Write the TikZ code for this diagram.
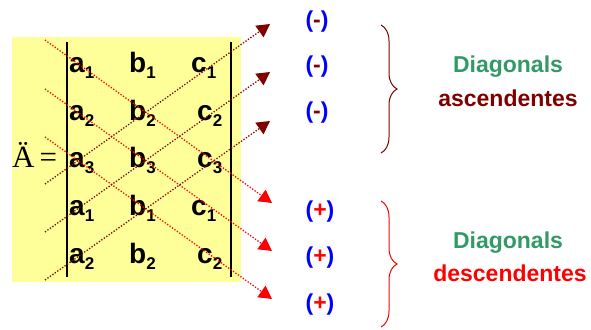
\documentclass[tikz,border=0pt]{standalone}
\usepackage{fontspec}
\setmainfont{Liberation Sans}
\newfontfamily\timesfont{Liberation Serif}
\usetikzlibrary{arrows.meta,decorations.pathreplacing}

\definecolor{detyellow}{HTML}{FFFF99}
\definecolor{darkred}{HTML}{800000}
\definecolor{signblue}{HTML}{0000FF}
\definecolor{diaggreen}{HTML}{339966}

\newcommand{\mentry}[2]{#1\raisebox{-6pt}{\fontsize{17}{17}\selectfont #2}}

\tikzset{
  entry/.style={anchor=base west, inner sep=0pt, font=\fontsize{28}{28}\selectfont\bfseries},
  sign/.style={inner sep=0pt, font=\fontsize{23}{23}\selectfont\bfseries},
  captext/.style={inner sep=0pt, font=\fontsize{23}{23}\selectfont\bfseries},
  descline/.style={red, line width=1.3pt, dash pattern=on 1.3pt off 1.7pt,
    -{Triangle[length=13pt,width=14pt]}},
  ascline/.style={darkred, line width=1.3pt, dash pattern=on 1.3pt off 1.7pt,
    -{Triangle[length=13pt,width=14pt]}},
  bracedraw/.style={line width=1pt, decorate, decoration={brace, amplitude=16pt}}
}

\begin{document}
\begin{tikzpicture}[x=1pt, y=-1pt]
    \useasboundingbox (0,0) rectangle (591,329);

    % determinant block
    \fill[detyellow] (12,37) rectangle (241,282);
    \draw[line width=1.8pt] (67,42) -- (67,277);
    \draw[line width=1.8pt] (231,42) -- (231,277);
    \node[anchor=base west, inner sep=0pt, font=\fontsize{31}{31}\selectfont\timesfont] (det) at (12,167) {Ä\,=};

    \node[entry] (a1) at (69,72) {\mentry{a}{1}};
    \node[entry] (b1) at (129,72) {\mentry{b}{1}};
    \node[entry] (c1) at (191,72) {\mentry{c}{1}};
    \node[entry] (a2) at (69,120) {\mentry{a}{2}};
    \node[entry] (b2) at (129,120) {\mentry{b}{2}};
    \node[entry] (c2) at (197,120) {\mentry{c}{2}};
    \node[entry] (a3) at (69,167) {\mentry{a}{3}};
    \node[entry] (b3) at (129,167) {\mentry{b}{3}};
    \node[entry] (c3) at (197,167) {\mentry{c}{3}};
    \node[entry] (a4) at (69,215) {\mentry{a}{1}};
    \node[entry] (b4) at (129,215) {\mentry{b}{1}};
    \node[entry] (c4) at (191,215) {\mentry{c}{1}};
    \node[entry] (a5) at (69,263) {\mentry{a}{2}};
    \node[entry] (b5) at (129,263) {\mentry{b}{2}};
    \node[entry] (c5) at (197,263) {\mentry{c}{2}};

    % diagonal ends
    \coordinate (D1) at (45,40);
    \coordinate (D2) at (45,89);
    \coordinate (D3) at (45,137);
    \coordinate (DE1) at (272,203);
    \coordinate (DE2) at (272,251);
    \coordinate (DE3) at (272,299);
    \coordinate (A1) at (45,184);
    \coordinate (A2) at (45,232);
    \coordinate (A3) at (45,280);
    \coordinate (AE1) at (270,24);
    \coordinate (AE2) at (270,72);
    \coordinate (AE3) at (270,121);

    \draw[descline] (D1) -- (DE1);
    \draw[descline] (D2) -- (DE2);
    \draw[descline] (D3) -- (DE3);
    \draw[ascline] (A1) -- (AE1);
    \draw[ascline] (A2) -- (AE2);
    \draw[ascline] (A3) -- (AE3);

    % signs
    \node[sign] (m1) at (317,22) {\color{signblue}(\color{darkred}-\color{signblue})};
    \node[sign] (m2) at (317,67) {\color{signblue}(\color{darkred}-\color{signblue})};
    \node[sign] (m3) at (317,113) {\color{signblue}(\color{darkred}-\color{signblue})};
    \node[sign] (p1) at (320,212) {\color{signblue}(\color{red}+\color{signblue})};
    \node[sign] (p2) at (320,258) {\color{signblue}(\color{red}+\color{signblue})};
    \node[sign] (p3) at (320,305) {\color{signblue}(\color{red}+\color{signblue})};

    % braces and captions
    \draw[bracedraw, darkred] (381,25) -- (381,153);
    \draw[bracedraw, red] (381,201) -- (381,327);

    \node[captext, text=diaggreen] (asc1) at (508,67) {Diagonals};
    \node[captext, text=darkred] (asc2) at (508,98) {ascendentes};
    \node[captext, text=diaggreen] (desc1) at (508,243) {Diagonals};
    \node[captext, text=red] (desc2) at (510,273) {descendentes};
\end{tikzpicture}
\end{document}
